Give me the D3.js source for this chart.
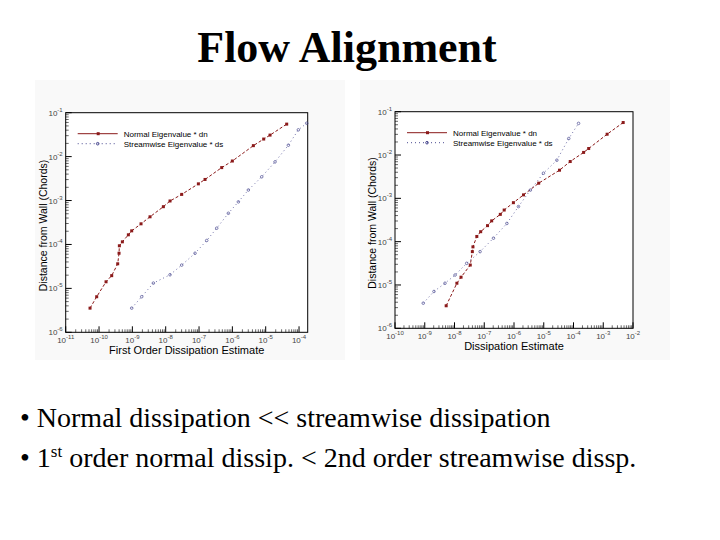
<!DOCTYPE html>
<html><head><meta charset="utf-8">
<script src="https://cdn.jsdelivr.net/npm/d3@7"></script>
<style>body{margin:0;background:#fff}</style>
</head><body>
<svg id="slide" width="720" height="540"></svg>
<script>
// log10 values
const leftNormalX = [-10.27,-10.07,-9.79,-9.62,-9.44,-9.40,-9.39,-9.30,-9.12,-9.02,-8.74,-8.47,-8.07,-7.87,-7.52,-7.02,-6.82,-6.32,-6.00,-5.37,-5.06,-4.87,-4.37];
const leftNormalY = [-5.45,-5.19,-4.85,-4.71,-4.44,-4.20,-4.03,-3.94,-3.78,-3.69,-3.53,-3.37,-3.14,-3.01,-2.86,-2.62,-2.52,-2.25,-2.10,-1.75,-1.60,-1.51,-1.26];
const leftStreamX = [-9.02,-8.72,-8.37,-7.87,-7.52,-7.12,-6.77,-6.47,-6.12,-5.82,-5.52,-5.12,-4.72,-4.32,-4.02,-3.77];
const leftStreamY = [-5.45,-5.19,-4.88,-4.69,-4.47,-4.20,-3.91,-3.63,-3.29,-3.03,-2.76,-2.46,-2.12,-1.74,-1.39,-1.24];
const rightNormalX = [-8.28,-7.92,-7.78,-7.47,-7.40,-7.38,-7.25,-7.12,-6.89,-6.75,-6.46,-6.33,-6.02,-5.68,-5.17,-4.47,-4.11,-3.66,-3.49,-2.87,-2.33];
const rightNormalY = [-5.48,-4.96,-4.82,-4.54,-4.23,-4.12,-3.88,-3.77,-3.63,-3.52,-3.37,-3.27,-3.10,-2.92,-2.65,-2.35,-2.15,-1.94,-1.85,-1.52,-1.25];
const rightStreamX = [-9.05,-8.69,-8.32,-7.98,-7.59,-7.14,-6.69,-6.24,-5.85,-5.45,-5.01,-4.56,-4.16,-3.83];
const rightStreamY = [-5.42,-5.15,-4.96,-4.77,-4.50,-4.23,-3.92,-3.58,-3.19,-2.81,-2.42,-2.12,-1.62,-1.27];
const leftXTicks = [-11,-10,-9,-8,-7,-6,-5,-4];
const rightXTicks = [-10,-9,-8,-7,-6,-5,-4,-3,-2];
const yTicks = [-6,-5,-4,-3,-2,-1];
const legendLabels = ["Normal Eigenvalue * dn", "Streamwise Eigenvalue * ds"];
const bullets = [["Normal dissipation << streamwise dissipation"], ["1", "st", " order normal dissip. < 2nd order streamwise dissp."]];

const svg = d3.select("#slide");
const red = "#8b1a1a", blue = "#4a4a90";

svg.append("text").attr("x", 347).attr("y", 62).attr("text-anchor", "middle")
  .attr("font-family", "Liberation Serif").attr("font-weight", "bold").attr("font-size", 44)
  .text("Flow Alignment");

function chart(ox, oy, box, xDom, xTicks, xLabel, nx, ny, sx, sy) {
  const g = svg.append("g");
  g.append("rect").attr("x", ox).attr("y", oy).attr("width", 310).attr("height", 280).attr("fill", "#f9f9f9");
  const x = d3.scaleLinear().domain(xDom).range([box[0], box[1]]);
  const y = d3.scaleLinear().domain([-6, -1]).range([box[3], box[2]]);
  g.append("rect").attr("x", box[0]).attr("y", box[2]).attr("width", box[1]-box[0]).attr("height", box[3]-box[2])
    .attr("fill", "#fff").attr("stroke", "#000");
  // minor ticks
  const minorX = [], minorY = [];
  xTicks.forEach(t => { for (let k = 2; k < 10; k++) { const v = t + Math.log10(k); if (v <= xDom[1]) minorX.push(v); } });
  yTicks.slice(0, -1).forEach(t => { for (let k = 2; k < 10; k++) minorY.push(t + Math.log10(k)); });
  g.selectAll(".mx").data(minorX).join("line").attr("x1", d => x(d)).attr("x2", d => x(d))
    .attr("y1", box[3]).attr("y2", box[3]-3).attr("stroke", "#000").attr("stroke-width", 0.6);
  g.selectAll(".my").data(minorY).join("line").attr("y1", d => y(d)).attr("y2", d => y(d))
    .attr("x1", box[0]).attr("x2", box[0]+3).attr("stroke", "#000").attr("stroke-width", 0.6);
  g.selectAll(".Mx").data(xTicks).join("line").attr("x1", d => x(d)).attr("x2", d => x(d))
    .attr("y1", box[3]).attr("y2", box[3]-6).attr("stroke", "#000");
  g.selectAll(".My").data(yTicks).join("line").attr("y1", d => y(d)).attr("y2", d => y(d))
    .attr("x1", box[0]).attr("x2", box[0]+6).attr("stroke", "#000");
  const sup = (sel) => { sel.append("tspan").text("10"); sel.append("tspan").attr("dy", -4).attr("font-size", 6).text(d => d); };
  g.selectAll(".lx").data(xTicks).join("text").attr("x", d => x(d)).attr("y", box[3]+11)
    .attr("text-anchor", "middle").attr("font-family", "Liberation Sans").attr("font-size", 8).attr("fill", "#444").call(sup);
  g.selectAll(".ly").data(yTicks).join("text").attr("x", box[0]-3).attr("y", d => y(d)+3)
    .attr("text-anchor", "end").attr("font-family", "Liberation Sans").attr("font-size", 8).attr("fill", "#444").call(sup);
  g.append("text").attr("x", (box[0]+box[1])/2).attr("y", box[3]+22).attr("text-anchor", "middle")
    .attr("font-family", "Liberation Sans").attr("font-size", 11).text(xLabel);
  g.append("text").attr("transform", `translate(${box[0]-19},${(box[2]+box[3])/2+3}) rotate(-90)`)
    .attr("text-anchor", "middle").attr("font-family", "Liberation Sans").attr("font-size", 10.5).text("Distance from Wall (Chords)");
  const line = d3.line().x(d => x(d[0])).y(d => y(d[1]));
  const ptsN = d3.zip(nx, ny), ptsS = d3.zip(sx, sy);
  g.append("path").attr("d", line(ptsN)).attr("fill", "none").attr("stroke", red).attr("stroke-width", 1).attr("stroke-dasharray", "3,2");
  g.selectAll(".pn").data(ptsN).join("rect").attr("x", d => x(d[0])-1.5).attr("y", d => y(d[1])-1.5)
    .attr("width", 3).attr("height", 3).attr("fill", red);
  g.append("path").attr("d", line(ptsS)).attr("fill", "none").attr("stroke", blue).attr("stroke-width", 0.8).attr("stroke-dasharray", "1,3");
  g.selectAll(".ps").data(ptsS).join("circle").attr("cx", d => x(d[0])).attr("cy", d => y(d[1]))
    .attr("r", 1.3).attr("fill", "none").attr("stroke", blue).attr("stroke-width", 0.7);
  // legend
  const lx = box[0]+12, ly = box[2]+21;
  g.append("line").attr("x1", lx).attr("x2", lx+40).attr("y1", ly).attr("y2", ly).attr("stroke", red);
  g.append("rect").attr("x", lx+19).attr("y", ly-1.5).attr("width", 3).attr("height", 3).attr("fill", red);
  g.append("line").attr("x1", lx).attr("x2", lx+40).attr("y1", ly+10).attr("y2", ly+10).attr("stroke", blue).attr("stroke-dasharray", "1,3");
  g.append("circle").attr("cx", lx+20).attr("cy", ly+10).attr("r", 1.3).attr("fill", "none").attr("stroke", blue);
  g.selectAll(".lg").data(legendLabels).join("text").attr("x", lx+46).attr("y", (d, i) => ly+3+i*10)
    .attr("font-family", "Liberation Sans").attr("font-size", 8).text(d => d);
}

chart(35, 80, [65.7, 307.7, 112.7, 332.3], [-11, -3.74], leftXTicks, "First Order Dissipation Estimate",
  leftNormalX, leftNormalY, leftStreamX, leftStreamY);
chart(360, 80, [395, 633, 111.7, 328.3], [-10, -2], rightXTicks, "Dissipation Estimate",
  rightNormalX, rightNormalY, rightStreamX, rightStreamY);

const bt = svg.selectAll(".b").data(bullets).join("text").attr("x", 20).attr("y", (d, i) => 427+i*40)
  .attr("font-family", "Liberation Serif").attr("font-size", 28);
bt.append("tspan").text("•  ");
bt.each(function(d) {
  const t = d3.select(this);
  t.append("tspan").text(d[0]);
  if (d.length > 1) {
    t.append("tspan").attr("dy", -10).attr("font-size", 17).text(d[1]);
    t.append("tspan").attr("dy", 10).text(d[2]);
  }
});
</script>
</body></html>
